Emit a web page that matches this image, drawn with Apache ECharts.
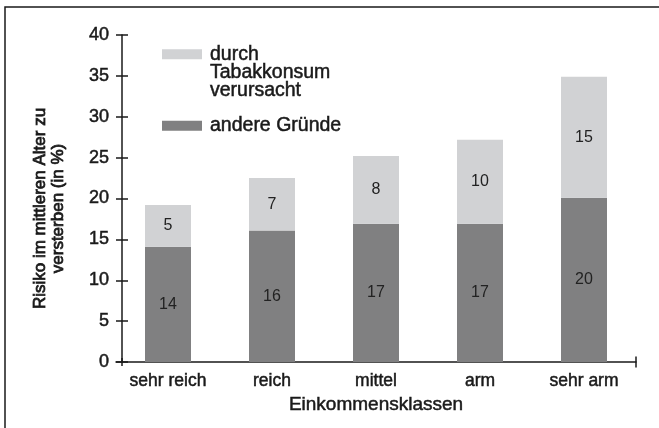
<!DOCTYPE html>
<html>
<head>
<meta charset="utf-8">
<script src="https://cdn.jsdelivr.net/npm/echarts@6/dist/echarts.min.js"></script>
<style>
  html, body { margin: 0; padding: 0; background: #fff; }
  #chart { width: 659px; height: 428px; }
</style>
</head>
<body>
<div id="chart"></div>
<script>
  // Einkommensklassen
  var categories = ['sehr reich', 'reich', 'mittel', 'arm', 'sehr arm']
  // Balkenhöhen
  var andereGruende = [14.1, 16.1, 16.9, 16.9, 20.1]
  var tabak = [5.1, 6.4, 8.3, 10.3, 14.8]
  // gedruckte Beschriftungen
  var labelsAndere = [14, 16, 17, 17, 20]
  var labelsTabak = [5, 7, 8, 10, 15]
  var yTicks = [0, 5, 10, 15, 20, 25, 30, 35, 40]

  var nameTabak = 'durch\nTabakkonsum\nverursacht'
  var nameAndere = 'andere Gründe'
  var font = '"Liberation Sans", Arial, Helvetica, sans-serif'
  var ink = '#1a1a1a'

  // etwas kräftigere Schrift (wie "medium")
  function txt(size, extra) {
    var s = { fontFamily: font, fontSize: size, color: ink, textBorderColor: ink, textBorderWidth: 0.5 }
    for (var k in extra) s[k] = extra[k]
    return s
  }

  var chart = echarts.init(document.getElementById('chart'))
  chart.setOption({
    animation: false,
    textStyle: { fontFamily: font },
    graphic: [{
      type: 'rect',
      shape: { x: 5, y: 7, width: 670, height: 440 },
      style: { fill: 'none', stroke: ink, lineWidth: 1.5 }
    }],
    legend: {
      orient: 'vertical',
      left: 162,
      top: 8,
      padding: 0,
      itemGap: 15,
      itemWidth: 40,
      itemHeight: 10,
      data: [nameTabak, nameAndere],
      icon: 'rect',
      // leere Zeilen, damit das Symbol neben der ersten Zeile steht
      formatter: function (name) {
        return name === nameTabak ? '\n\n' + name : name
      },
      textStyle: txt(19.5, { lineHeight: 18, padding: [2, 0, 0, 3] })
    },
    grid: { left: 116, right: 23, top: 35, bottom: 66, containLabel: false },
    xAxis: {
      type: 'category',
      data: categories,
      name: 'Einkommensklassen',
      nameLocation: 'middle',
      nameGap: 33,
      nameTextStyle: txt(19),
      axisLine: {
        lineStyle: { color: ink, width: 1.5 },
        symbol: ['none', 'rect'],
        symbolSize: [11, 1.5]
      },
      axisTick: { show: false },
      axisLabel: txt(17.5, { margin: 10 })
    },
    yAxis: [{
      type: 'value',
      min: 0,
      max: 40,
      interval: 5,
      offset: -6,
      name: 'Risiko im mittleren Alter zu\nversterben (in %)',
      nameLocation: 'middle',
      nameGap: 55,
      nameTextStyle: txt(17, { lineHeight: 18, padding: [0, 20, 0, 0], textBorderWidth: 0.8 }),
      axisLine: {
        show: true,
        lineStyle: { color: ink, width: 1.5 },
        symbol: ['rect', 'none'],
        symbolSize: [1.5, 8]
      },
      axisTick: { show: true, length: 6, lineStyle: { color: ink, width: 1.5 } },
      axisLabel: txt(18, {
        margin: 13,
        formatter: function (v) { return yTicks.indexOf(v) >= 0 ? String(v) : '' }
      }),
      splitLine: { show: false }
    }, {
      type: 'value',
      min: 0,
      max: 40,
      interval: 5,
      offset: -6,
      position: 'left',
      axisLine: { show: false },
      axisTick: { show: true, inside: true, length: 6, lineStyle: { color: ink, width: 1.5 } },
      axisLabel: { show: false },
      splitLine: { show: false }
    }],
    series: [{
      name: nameAndere,
      type: 'bar',
      stack: 'risk',
      barWidth: 46,
      data: andereGruende,
      itemStyle: { color: '#808081' },
      label: {
        show: true,
        position: 'inside',
        fontFamily: font, fontSize: 16, color: '#222', textBorderColor: 'transparent',
        formatter: function (p) { return labelsAndere[p.dataIndex] }
      }
    }, {
      name: nameTabak,
      type: 'bar',
      stack: 'risk',
      barWidth: 46,
      data: tabak,
      itemStyle: { color: '#d1d2d4' },
      label: {
        show: true,
        position: 'inside',
        fontFamily: font, fontSize: 16, color: '#222', textBorderColor: 'transparent',
        formatter: function (p) { return labelsTabak[p.dataIndex] }
      }
    }]
  })
</script>
</body>
</html>
